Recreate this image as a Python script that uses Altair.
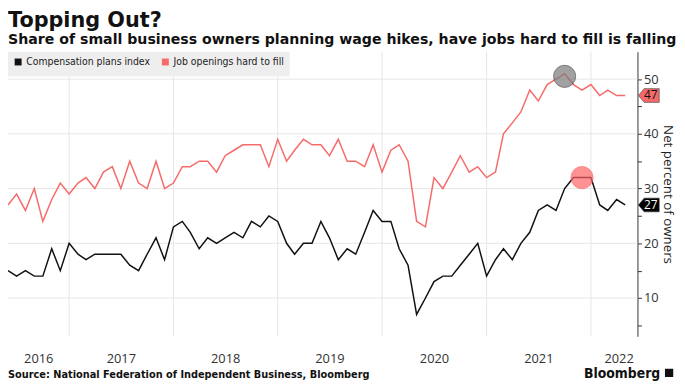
import altair as alt
import pandas as pd

# ---------------- data ----------------
months = pd.date_range("2016-06-01", periods=72, freq="MS")

comp_plans = [
    15, 14, 15, 14, 14, 19, 15,                      # 2016 Jun-Dec
    20, 18, 17, 18, 18, 18, 18, 16, 15, 18, 21, 17,  # 2017
    23, 24, 22, 19, 21, 20, 21, 22, 21, 24, 23, 25,  # 2018
    24, 20, 18, 20, 20, 24, 21, 17, 19, 18, 22, 26,  # 2019
    24, 24, 19, 16, 7, 10, 13, 14, 14, 16, 18, 20,   # 2020
    14, 17, 19, 17, 20, 22, 26, 27, 26, 30, 32, 32,  # 2021
    32, 27, 26, 28, 27,                              # 2022 Jan-May
]
hard_to_fill = [
    27, 29, 26, 30, 24, 28, 31,
    29, 31, 32, 30, 33, 34, 30, 35, 31, 30, 35, 30,
    31, 34, 34, 35, 35, 33, 36, 37, 38, 38, 38, 34,
    39, 35, 37, 39, 38, 38, 36, 39, 35, 35, 34, 38,
    33, 37, 38, 35, 24, 23, 32, 30, 33, 36, 33, 34,
    32, 33, 40, 42, 44, 48, 46, 49, 50, 51, 49, 48,
    49, 47, 48, 47, 47,
]
series_names = ["Compensation plans index", "Job openings hard to fill"]
series_colors = ["#111111", "#f76a6a"]

year_starts = ["2017-01-01", "2018-01-01", "2019-01-01", "2020-01-01", "2021-01-01", "2022-01-01"]
year_label_dates = [(2016, 9, 15), (2017, 7, 1), (2018, 7, 1), (2019, 7, 1),
                    (2020, 7, 1), (2021, 7, 1), (2022, 4, 8)]
grid_values = [10, 20, 30, 40, 50]
tick_values = [5, 10, 15, 20, 25, 30, 35, 40, 45, 50]

highlight_dates = ["2021-10-01", "2021-12-01"]
highlight_values = [50.5, 32]
highlight_fills = ["#7a7a7a", "#ff6666"]
highlight_strokes = ["#444444", "#ff5555"]

tag_labels = [str(comp_plans[-1]), str(hard_to_fill[-1])]
tag_values = [comp_plans[-1], hard_to_fill[-1]]
tag_fills = ["#000000", "#f76a6a"]
tag_text_colors = ["#ffffff", "#111111"]

# ---------------- tables ----------------
df = pd.DataFrame({
    "date": list(months) * 2,
    "value": comp_plans + hard_to_fill,
    "series": [series_names[0]] * len(months) + [series_names[1]] * len(months),
})
df_years = pd.DataFrame({"date": pd.to_datetime(year_starts)})
df_grid = pd.DataFrame({"value": grid_values})
df_hl = pd.DataFrame({"date": pd.to_datetime(highlight_dates), "value": highlight_values,
                      "fill": highlight_fills, "stroke": highlight_strokes})
df_tags = pd.DataFrame({"value": tag_values, "label": tag_labels,
                        "fill": tag_fills, "tcolor": tag_text_colors})

W, H = 637, 288
FONT = "Open Sans"
COND = "DejaVu Sans Condensed"
BOLD = "DejaVu Sans"

x_scale = alt.Scale(domain=[alt.DateTime(year=2016, month=6, date=1),
                            alt.DateTime(year=2022, month=6, date=13)])
y_scale = alt.Scale(domain=[3, 55], nice=False, zero=False)

x_axis = alt.Axis(
    values=[alt.DateTime(year=y, month=m, date=d) for (y, m, d) in year_label_dates],
    labelExpr="timeFormat(datum.value, '%Y')",
    grid=False, ticks=False, domain=False, title=None,
    labelFont=FONT, labelFontSize=13, labelColor="#333333",
    labelPadding=16, labelFlush=False, labelOverlap=False,
)
y_axis = alt.Axis(
    orient="right", values=tick_values,
    labelExpr="datum.value % 10 == 0 ? datum.label : ''",
    grid=False, domainColor="#333333", tickColor="#333333", tickSize=4,
    labelFont=FONT, labelFontSize=13, labelColor="#333333", labelPadding=2,
    labelOverlap=False, labelFlush=False,
    title="Net percent of owners", titleFont=FONT, titleFontSize=13.5,
    titleFontWeight="normal", titleColor="#222222", titleAngle=90, titlePadding=2,
)

X = alt.X("date:T", scale=x_scale, axis=x_axis)
Y = alt.Y("value:Q", scale=y_scale, axis=y_axis)

vgrid = alt.Chart(df_years).mark_rule(color="#e6e6e6", strokeWidth=1).encode(x=X)
hgrid = alt.Chart(df_grid).mark_rule(color="#e6e6e6", strokeWidth=1).encode(y=Y)

lines = alt.Chart(df).mark_line(strokeWidth=1.5).encode(
    x=X,
    y=Y,
    color=alt.Color(
        "series:N",
        scale=alt.Scale(domain=series_names, range=series_colors),
        legend=alt.Legend(
            orient="top-left", direction="horizontal", title=None,
            symbolType="square", symbolSize=9, symbolStrokeWidth=4,
            fillColor="#eeeeee", padding=5, offset=0,
            labelFont=COND, labelFontSize=10.5, labelColor="#222222",
            columnPadding=5, labelOffset=3,
        ),
    ),
)

highlights = alt.Chart(df_hl).mark_circle(size=500, opacity=0.7, strokeWidth=1).encode(
    x=X,
    y=Y,
    fill=alt.Fill("fill:N", scale=None),
    stroke=alt.Stroke("stroke:N", scale=None),
)

tag_shape = "M -1 0 L -0.45 -0.66 L 1 -0.66 L 1 0.66 L -0.45 0.66 Z"
tags = alt.Chart(df_tags).mark_point(shape=tag_shape, filled=True, size=441, opacity=1,
                                     strokeWidth=0.6, stroke="#333333").encode(
    x=alt.value(W + 11.5),
    y=Y,
    fill=alt.Fill("fill:N", scale=None),
)
tag_text = alt.Chart(df_tags).mark_text(font=FONT, fontSize=12, align="center",
                                        baseline="middle").encode(
    x=alt.value(W + 13.5),
    y=Y,
    text="label:N",
    fill=alt.Fill("tcolor:N", scale=None),
)

source = alt.Chart(pd.DataFrame({"t": ["Source: National Federation of Independent Business, Bloomberg"]})).mark_text(
    font=COND, fontSize=11, fontWeight="bold", align="left", baseline="alphabetic", color="#111111"
).encode(x=alt.value(0), y=alt.value(H + 42), text="t:N")

brand = alt.Chart(pd.DataFrame({"t": ["Bloomberg"]})).mark_text(
    font=COND, fontSize=14, fontWeight="bold", align="right", baseline="alphabetic", color="#111111"
).encode(x=alt.value(W + 23), y=alt.value(H + 42), text="t:N")

brand_icon = alt.Chart(pd.DataFrame({"t": ["icon"]})).mark_square(
    size=70, color="#111111", opacity=1, cornerRadius=1
).encode(x=alt.value(W + 32), y=alt.value(H + 37))

chart = alt.layer(vgrid, hgrid, lines, highlights, tags, tag_text, source, brand, brand_icon).properties(
    width=W, height=H,
    autosize=alt.AutoSizeParams(type="none"),
    padding={"left": 0, "top": 42, "right": 40, "bottom": 47},
    title=alt.TitleParams(
        text="Topping Out?",
        subtitle="Share of small business owners planning wage hikes, have jobs hard to fill is falling",
        anchor="start", frame="group", font=BOLD, fontSize=21, fontWeight="bold", color="#111111",
        subtitleFont=BOLD, subtitleFontSize=14.3, subtitleFontWeight="bold", subtitleColor="#111111",
        subtitlePadding=2, offset=4,
    ),
).configure_view(stroke=None)

chart.save("out.html", embed_options={"renderer": "svg", "actions": False})
